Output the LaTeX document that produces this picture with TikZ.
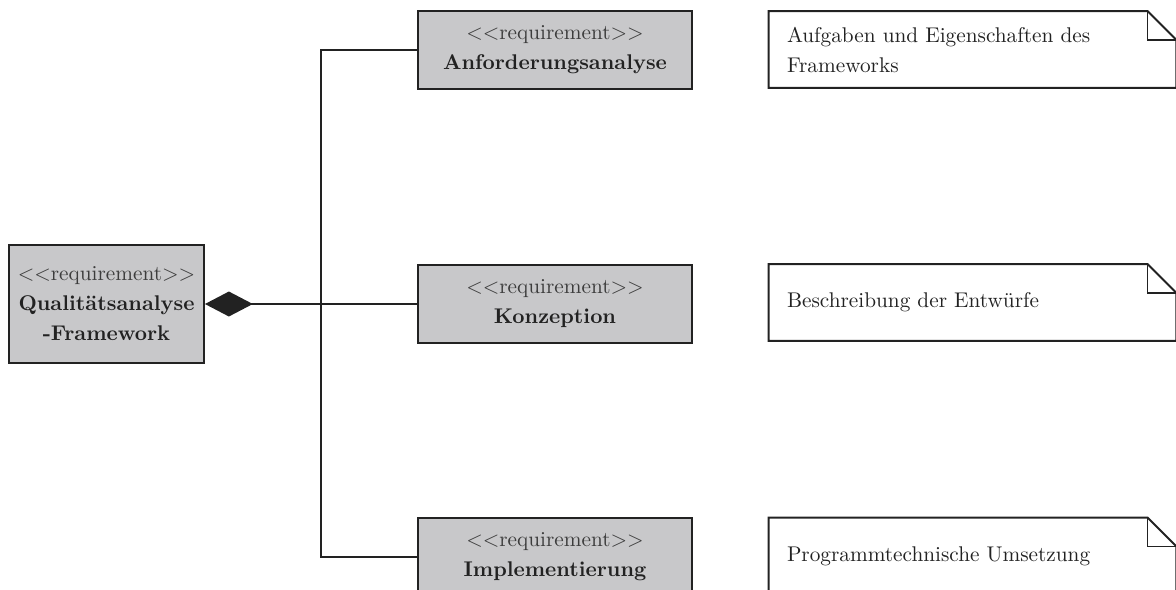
\documentclass[tikz,border=0pt]{standalone}
\usetikzlibrary{arrows.meta}
\definecolor{ink}{HTML}{222222}
\definecolor{reqfill}{HTML}{C8C8CA}
\definecolor{stereo}{HTML}{3C3C3C}
\newcommand{\stereotype}{\textcolor{stereo}{$<<$requirement$>>$}}
\begin{document}
\begin{tikzpicture}[x=0.47pt,y=-0.47pt,
    every node/.style={font=\fontsize{10}{14.1}\selectfont, text=ink},
    reqbox/.style={draw=ink, line width=0.9pt, fill=reqfill, align=center,
      inner sep=0pt, minimum width=128.78pt, minimum height=36.66pt},
    notebox/.style={inner xsep=8.46pt, inner ysep=0pt, align=left,
      text width=174.37pt, minimum width=191.29pt, minimum height=35.72pt},
    link/.style={draw=ink, line width=0.9pt}]
  \useasboundingbox (0,0) rectangle (1176,589);
  \clip (0,0) rectangle (1176,589);

  % the framework and its three parts
  \node[reqbox, minimum width=91.65pt, minimum height=55.46pt] (qa) at (106.5,304)
    {\stereotype\\\textbf{Qualitätsanalyse}\\\textbf{-Framework}};
  \node[reqbox] (an) at (555,50) {\stereotype\\\textbf{Anforderungsanalyse}};
  \node[reqbox] (ko) at (555,304) {\stereotype\\\textbf{Konzeption}};
  \node[reqbox] (im) at (555,557) {\stereotype\\\textbf{Implementierung}};

  % composition: diamond at the whole, branches to the parts
  \coordinate (fork) at (321,304);
  \draw[link, {Diamond[length=22.5pt, width=11.75pt, fill=ink]}-] (qa.east) -- (ko.west);
  \draw[link] (an.west) -| (fork) |- (im.west);

  % notes with folded corner
  \node[notebox] (n1) at (972.5,49.5) {Aufgaben und Eigenschaften des Frameworks};
  \node[notebox] (n2) at (972.5,302.5) {Beschreibung der Entwürfe};
  \node[notebox] (n3) at (972.5,556) {Programmtechnische Umsetzung};
  \foreach \n in {n1,n2,n3}{
    \draw[link, line join=miter] (\n.north west) -- ([xshift=-13.6pt]\n.north east)
      -- ([yshift=-13.6pt]\n.north east) -- (\n.south east) -- (\n.south west) -- cycle;
    \draw[link] ([xshift=-13.6pt]\n.north east) |- ([yshift=-13.6pt]\n.north east);
  }
\end{tikzpicture}
\end{document}
